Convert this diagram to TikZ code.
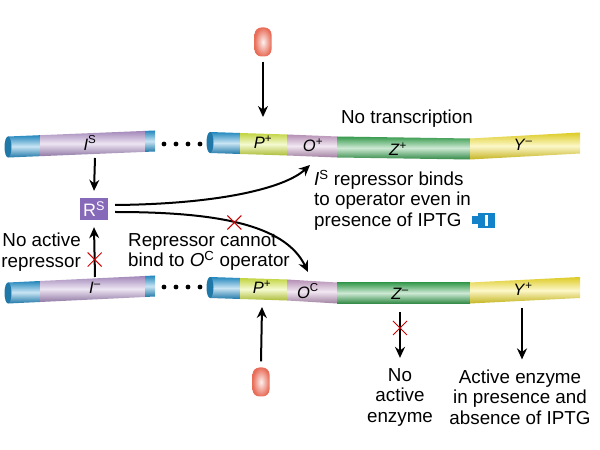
\documentclass[tikz,border=0pt]{standalone}
\usepackage{fontspec}
\setmainfont{Liberation Sans}
\usepackage{tikz}
\usetikzlibrary{arrows.meta, shapes.misc}

\definecolor{dnablue}{RGB}{40,150,210}
\definecolor{dnapurple}{RGB}{180,150,205}
\definecolor{opink}{RGB}{200,160,200}
\definecolor{pyellow}{RGB}{215,235,70}
\definecolor{zgreen}{RGB}{60,170,85}
\definecolor{yyellow}{RGB}{245,225,40}
\definecolor{rspurple}{RGB}{135,105,185}
\definecolor{iptgblue}{RGB}{20,130,200}
\definecolor{pillred}{RGB}{232,110,90}

% x1 y1 x2 y2 colour
\newcommand{\tubeseg}[5]{%
  \shade[top color=#5!90!black, bottom color=#5!80!black, middle color=#5!25!white]
    (#1,#2-10.5) -- (#3,#4-10.5) -- (#3,#4+10.5) -- (#1,#2+10.5) -- cycle;}
\newcommand{\tubeend}[2]{%
  \fill[dnablue!80!black] (#1,#2) ellipse (3.5 and 10.5);}

\begin{document}
\begin{tikzpicture}[
          x=1pt,
          y=1pt,
          ar/.style={-{Stealth[length=11pt,width=10pt]}, line width=2pt},
          lbl/.style={font=\fontsize{16.5}{16.5}\selectfont, inner sep=0pt},
          txt/.style={font=\fontsize{18.8}{20.5}\selectfont, inner sep=0pt},
          nox/.style={cross out, draw=red!80!black, line width=1pt, minimum size=13pt, inner sep=0pt},
          pill/.style={rounded corners=7pt, inner color=pillred!10!white, outer color=pillred,
                       minimum width=17pt, minimum height=29pt, inner sep=0pt},
          dot/.style={fill=black, circle, inner sep=1.7pt},
        ]
      \useasboundingbox (0,0) rectangle (600,450);
      \tubeseg{8}{303}{40}{304.3}{dnablue}
      \tubeseg{40}{304.3}{145}{308.6}{dnapurple}
      \tubeseg{145}{308.6}{155}{309}{dnablue}
      \tubeend{8}{303}
      \tubeseg{210}{307.5}{240}{306.5}{dnablue}
      \tubeseg{240}{306.5}{287}{305}{pyellow}
      \tubeseg{287}{305}{337}{303}{opink}
      \tubeseg{337}{303}{470}{301}{zgreen}
      \tubeseg{470}{301}{580}{307}{yyellow}
      \tubeend{210}{307.5}
      \tubeseg{8}{157}{40}{158.5}{dnablue}
      \tubeseg{40}{158.5}{145}{163.5}{dnapurple}
      \tubeseg{145}{163.5}{155}{164}{dnablue}
      \tubeend{8}{157}
      \tubeseg{210}{162.5}{240}{161.5}{dnablue}
      \tubeseg{240}{161.5}{287}{160}{pyellow}
      \tubeseg{287}{160}{337}{157}{opink}
      \tubeseg{337}{157}{470}{157}{zgreen}
      \tubeseg{470}{157}{580}{162.5}{yyellow}
      \tubeend{210}{162.5}
      \foreach \x in {164, 176, 188, 200} {
        \node[dot] at (\x, 306) {};
        \node[dot] at (\x, 163) {};
      }
      \node[lbl] (is) at (90, 307) {\textit{I}\textsuperscript{S}};
      \node[lbl] (im) at (95, 162) {\textit{I}\textsuperscript{--}};
      \node[lbl] (pp1) at (263, 308) {\textit{P}\textsuperscript{+}};
      \node[lbl] (op) at (313, 305) {\textit{O}\textsuperscript{+}};
      \node[lbl] (zp) at (398, 301) {\textit{Z}\textsuperscript{+}};
      \node[lbl] (ym) at (523, 305) {\textit{Y}\textsuperscript{--}};
      \node[lbl] (pp2) at (262, 163) {\textit{P}\textsuperscript{+}};
      \node[lbl] (oc) at (308, 159) {\textit{O}\textsuperscript{C}};
      \node[lbl] (zm) at (400, 156) {\textit{Z}\textsuperscript{--}};
      \node[lbl] (yp) at (523, 161) {\textit{Y}\textsuperscript{+}};
      \node[pill] (pt) at (263, 408) {};
      \node[pill] (pb) at (261, 68) {};
      \node[fill=rspurple, minimum width=28pt, minimum height=22pt, inner sep=0pt,
            font=\fontsize{18}{18}\selectfont, text=white] (rs) at (94, 241) {R\textsuperscript{S}};
      \coordinate (topin) at (263, 333);
      \coordinate (botin) at (262, 143);
      \coordinate (isout) at (95, 292);
      \coordinate (imout) at (95, 173);
      \coordinate (opin) at (310, 285);
      \coordinate (ocin) at (308, 178);
      \draw[ar] ([yshift=-5pt]pt.south) -- (topin);
      \draw[ar] ([yshift=6pt]pb.north) -- (botin);
      \draw[ar] (isout) -- ([yshift=7pt]rs.north);
      \draw[ar] (imout) -- node[nox, pos=0.35] (x1) {} ([yshift=-7pt]rs.south);
      \draw[ar] ([xshift=7pt, yshift=4pt]rs.east) .. controls (220, 246) and (285, 262) .. (opin);
      \draw[ar] ([xshift=7pt, yshift=-3pt]rs.east) .. controls (215, 238) and (285, 226) .. node[nox, pos=0.47] (x2) {} (ocin);
      \node[txt] (notr) at (407, 331) {No transcription};
      \node[txt, anchor=west, align=left] (binds) at (314, 250)
        {\textit{I}\textsuperscript{S} repressor binds\\to operator even in\\presence of IPTG};
      \node[fill=iptgblue, minimum width=17pt, minimum height=15pt, inner sep=0pt] (iptg) at (486.5, 229.5) {};
      \fill[iptgblue] ([xshift=-6pt, yshift=-4pt]iptg.west) rectangle ([yshift=4pt]iptg.west);
      \fill[white] ([xshift=-1.5pt, yshift=-5.5pt]iptg.center) rectangle ([xshift=1.5pt, yshift=5.5pt]iptg.center);
      \node[txt, anchor=east, align=right] (norep) at (81, 198) {No active\\repressor};
      \node[txt, anchor=west, align=left] (cannot) at (128, 198)
        {Repressor cannot\\bind to \textit{O}\textsuperscript{C} operator};
      \node[txt, align=center] (noenz) at (400, 53) {No\\active\\enzyme};
      \node[txt, align=center] (actenz) at (520, 53) {Active enzyme\\in presence and\\absence of IPTG};
      \draw[ar] ([yshift=-12pt]zm.south) -- node[nox, pos=0.35] (x3) {} ([yshift=10pt]noenz.north);
      \draw[ar] ([xshift=-1pt, yshift=-12pt]yp.south) -- ([xshift=-1pt, yshift=10pt]yp.south |- actenz.north);
    \end{tikzpicture}
\end{document}
